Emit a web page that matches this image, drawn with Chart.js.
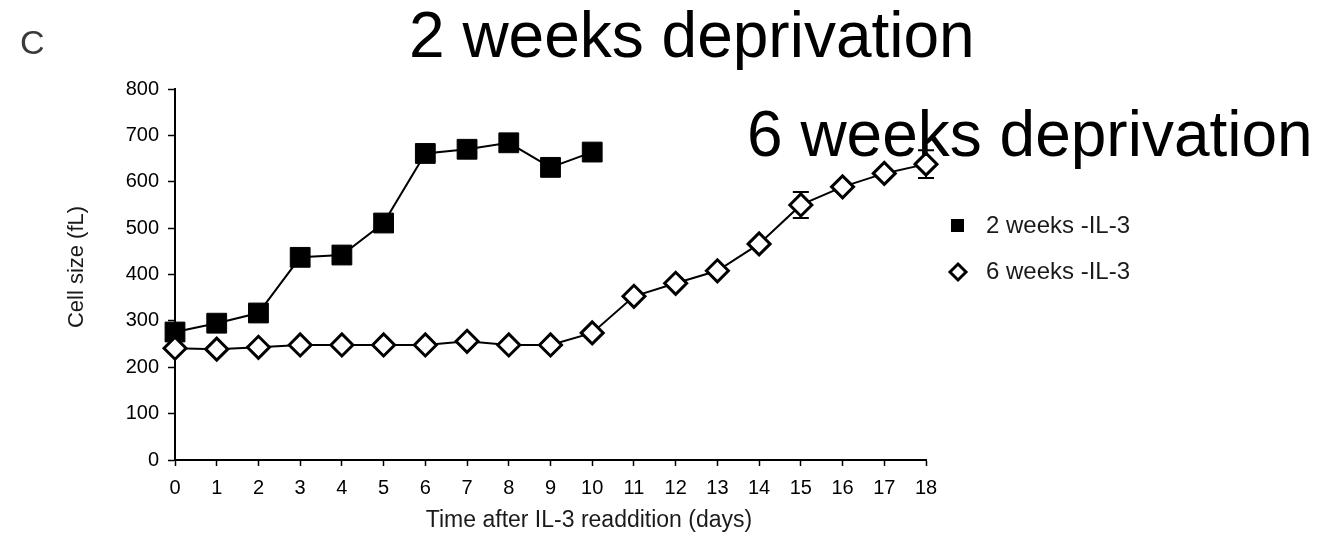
<!DOCTYPE html>
<html>
<head>
<meta charset="utf-8">
<title>Cell size after IL-3 readdition</title>
<script src="https://cdn.jsdelivr.net/npm/chart.js@4/dist/chart.umd.min.js"></script>
<style>
  html, body { margin: 0; padding: 0; background: #fff; }
  #cellChart { display: block; }
</style>
</head>
<body>
<canvas id="cellChart" width="1329" height="541"></canvas>
<script>
// days after IL-3 readdition
const days = [0, 1, 2, 3, 4, 5, 6, 7, 8, 9, 10, 11, 12, 13, 14, 15, 16, 17, 18];
const yTicks = [0, 100, 200, 300, 400, 500, 600, 700, 800];

// mean cell size (fL)
const twoWeeks = [276, 295, 317, 437, 442, 511, 661, 670, 684, 631, 664];
const sixWeeks = [241, 239, 243, 248, 248, 248, 248, 256, 248, 248, 274, 353, 381, 408, 466, 550, 589, 618, 638];
const sixWeeksErr = [0, 0, 0, 0, 0, 0, 0, 0, 0, 0, 0, 0, 0, 0, 0, 28, 0, 0, 30];

const seriesNames = ['2 weeks -IL-3', '6 weeks -IL-3'];
const FONT = '"Liberation Sans", Arial, sans-serif';

const errorBars = {
  id: 'errorBars',
  beforeDatasetsDraw(chart) {
    const ctx = chart.ctx;
    const x = chart.scales.x, y = chart.scales.y;
    ctx.save();
    ctx.strokeStyle = '#000';
    ctx.lineWidth = 2;
    sixWeeksErr.forEach((err, i) => {
      if (!err) return;
      const px = x.getPixelForValue(i);
      const top = y.getPixelForValue(sixWeeks[i] + err);
      const bot = y.getPixelForValue(sixWeeks[i] - err);
      ctx.beginPath();
      ctx.moveTo(px, top); ctx.lineTo(px, bot);
      ctx.moveTo(px - 8, top); ctx.lineTo(px + 8, top);
      ctx.moveTo(px - 8, bot); ctx.lineTo(px + 8, bot);
      ctx.stroke();
    });
    ctx.restore();
  }
};

const labelsAndLegend = {
  id: 'labelsAndLegend',
  afterDraw(chart) {
    const ctx = chart.ctx;
    ctx.save();

    // panel letter
    ctx.fillStyle = '#3a3a3a';
    ctx.font = '34px ' + FONT;
    ctx.textAlign = 'left';
    ctx.textBaseline = 'alphabetic';
    ctx.fillText('C', 20, 54);

    // group headings
    ctx.fillStyle = '#000';
    ctx.font = '64px ' + FONT;
    ctx.fillText('2 weeks deprivation', 409, 57);
    ctx.fillText('6 weeks deprivation', 747, 156);

    // axis titles
    ctx.fillStyle = '#1a1a1a';
    ctx.font = '23px ' + FONT;
    ctx.textAlign = 'center';
    ctx.textBaseline = 'middle';
    ctx.fillText('Time after IL-3 readdition (days)', 589, 521);

    ctx.save();
    ctx.translate(77, 267);
    ctx.rotate(-Math.PI / 2);
    ctx.font = '22px ' + FONT;
    ctx.fillText('Cell size (fL)', 0, 0);
    ctx.restore();

    // legend
    ctx.fillStyle = '#000';
    ctx.fillRect(951, 219, 13, 13);

    ctx.beginPath();
    ctx.moveTo(958, 264);
    ctx.lineTo(966, 272);
    ctx.lineTo(958, 280);
    ctx.lineTo(950, 272);
    ctx.closePath();
    ctx.fillStyle = '#fff';
    ctx.fill();
    ctx.lineWidth = 3;
    ctx.strokeStyle = '#000';
    ctx.stroke();

    ctx.fillStyle = '#1a1a1a';
    ctx.font = '24px ' + FONT;
    ctx.textAlign = 'left';
    ctx.fillText(seriesNames[0], 986, 226);
    ctx.fillText(seriesNames[1], 986, 272);

    ctx.restore();
  }
};

new Chart(document.getElementById('cellChart'), {
  type: 'line',
  data: {
    labels: days.map(String),
    datasets: [
      {
        label: seriesNames[0],
        data: twoWeeks,
        order: 1,
        borderColor: '#000',
        borderWidth: 2,
        backgroundColor: '#000',
        pointStyle: 'rect',
        pointRadius: 14,
        pointBorderWidth: 1,
        pointBorderColor: '#000',
        pointBackgroundColor: '#000',
        tension: 0
      },
      {
        label: seriesNames[1],
        data: sixWeeks,
        order: 0,
        borderColor: '#000',
        borderWidth: 2,
        backgroundColor: '#fff',
        pointStyle: 'rectRot',
        pointRadius: 11,
        pointBorderWidth: 3,
        pointBorderColor: '#000',
        pointBackgroundColor: '#fff',
        tension: 0
      }
    ]
  },
  options: {
    responsive: false,
    animation: false,
    devicePixelRatio: 1,
    layout: { padding: { left: 60, top: 89, right: 403, bottom: 0 } },
    plugins: {
      legend: { display: false },
      tooltip: { enabled: false }
    },
    scales: {
      x: {
        type: 'category',
        offset: false,
        afterFit(scale) { scale.height = 81; },
        border: { display: true, color: '#000', width: 2 },
        grid: { drawOnChartArea: false, drawTicks: true, tickLength: 6, tickColor: '#000', tickWidth: 1.5 },
        ticks: {
          color: '#000',
          font: { family: FONT, size: 20 },
          padding: 10,
          maxRotation: 0,
          autoSkip: false
        }
      },
      y: {
        min: yTicks[0],
        max: yTicks[yTicks.length - 1],
        afterFit(scale) { scale.width = 115; },
        afterBuildTicks(scale) { scale.ticks = yTicks.map(v => ({ value: v })); },
        border: { display: true, color: '#000', width: 2 },
        grid: { drawOnChartArea: false, drawTicks: true, tickLength: 7, tickColor: '#000', tickWidth: 1.5 },
        ticks: {
          color: '#000',
          font: { family: FONT, size: 20 },
          padding: 9
        }
      }
    }
  },
  plugins: [errorBars, labelsAndLegend]
});
</script>
</body>
</html>
